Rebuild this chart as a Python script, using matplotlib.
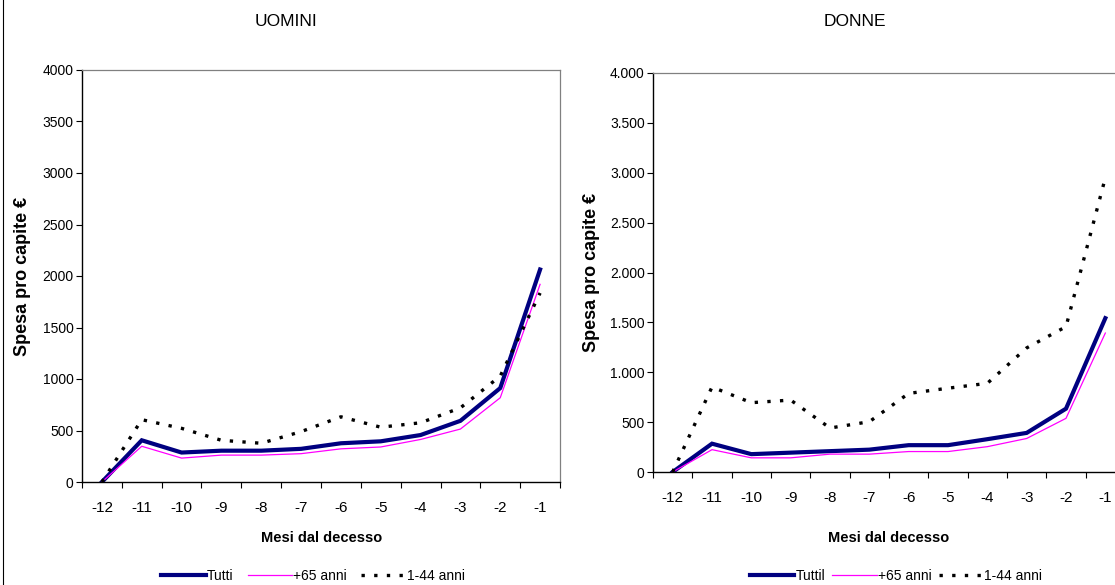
import matplotlib
matplotlib.use('Agg')
import matplotlib.pyplot as plt
from matplotlib.ticker import FixedLocator, FuncFormatter

plt.rcParams['font.family'] = ['Liberation Sans', 'DejaVu Sans']

mesi = ['-12', '-11', '-10', '-9', '-8', '-7', '-6', '-5', '-4', '-3', '-2', '-1']

# uomini
u_tutti = [0, 405, 286, 304, 304, 322, 376, 395, 456, 594, 912, 2063]
u_65 = [0, 347, 232, 261, 261, 275, 322, 340, 413, 514, 818, 1919]
u_144 = [0, 605, 521, 405, 376, 489, 633, 532, 575, 720, 1028, 1835]

# donne
d_tutti = [0, 284, 179, 194, 209, 224, 269, 269, 329, 392, 635, 1542]
d_65 = [0, 224, 142, 142, 179, 179, 205, 205, 254, 336, 538, 1393]
d_144 = [0, 852, 695, 721, 441, 504, 788, 840, 889, 1244, 1457, 2950]

labels_u = ['Tutti', '+65 anni', '1-44 anni']
labels_d = ['Tuttil', '+65 anni', '1-44 anni']

W, H = 1115, 585


def px_box(x0, y0, x1, y1):
	return [x0 / W, 1 - y1 / H, (x1 - x0) / W, (y1 - y0) / H]


def draw_panel(fig, box, tutti, p65, p144, fmt):
	ax = fig.add_axes(box)
	x = list(range(len(mesi)))
	l1, = ax.plot(x, tutti, color='#000080', lw=3.0, solid_joinstyle='miter')
	l2, = ax.plot(x, p65, color='#FF00FF', lw=0.9)
	l3, = ax.plot(x, p144, color='black', lw=2.4, linestyle=(0, (1.0, 2.8)))
	ax.set_xlim(-0.5, len(mesi) - 0.5)
	ax.set_ylim(0, 4000)
	ax.set_yticks(range(0, 4001, 500))
	ax.yaxis.set_major_formatter(FuncFormatter(fmt))
	ax.xaxis.set_major_locator(FixedLocator([i - 0.5 for i in range(len(mesi) + 1)]))
	ax.xaxis.set_major_formatter(FuncFormatter(lambda v, p: ''))
	ax.xaxis.set_minor_locator(FixedLocator(x))
	ax.set_xticklabels(mesi, minor=True)
	ax.tick_params(axis='x', which='major', direction='out', length=4, width=0.8)
	ax.tick_params(axis='x', which='minor', length=0, pad=14, labelsize=11)
	ax.tick_params(axis='y', direction='out', length=4, width=0.8, labelsize=10, pad=2)
	for s in ['top', 'right']:
		ax.spines[s].set_color('#808080')
		ax.spines[s].set_linewidth(0.9)
	for s in ['left', 'bottom']:
		ax.spines[s].set_color('black')
		ax.spines[s].set_linewidth(1.0)
	ax.set_ylabel('Spesa pro capite €', fontsize=13, fontweight='bold')
	return ax, [l1, l2, l3]


fig = plt.figure(figsize=(W / 100, H / 100), dpi=100)

ax1, h1 = draw_panel(fig, px_box(82, 70, 560, 482), u_tutti, u_65, u_144,
	lambda v, p: '%d' % v)
ax1.yaxis.labelpad = 8
ax2, h2 = draw_panel(fig, px_box(653, 73, 1125, 472), d_tutti, d_65, d_144,
	lambda v, p: ('%d' % v) if v < 1000 else '%d.%03d' % (v // 1000, v % 1000))
ax2.yaxis.labelpad = 7

fig.text(286 / W, 1 - 22 / H, 'UOMINI', ha='center', va='center', fontsize=12.5)
fig.text(855 / W, 1 - 22 / H, 'DONNE', ha='center', va='center', fontsize=12.5)
fig.text(322 / W, 1 - 538 / H, 'Mesi dal decesso', ha='center', va='center',
	fontsize=10.5, fontweight='bold')
fig.text(889 / W, 1 - 538 / H, 'Mesi dal decesso', ha='center', va='center',
	fontsize=10.5, fontweight='bold')

fig.legend(h1, labels_u, loc='center', bbox_to_anchor=(313 / W, 1 - 576 / H), ncol=3,
	frameon=False, fontsize=10, handlelength=3.2, handletextpad=0.1, columnspacing=1.0)
fig.legend(h2, labels_d, loc='center', bbox_to_anchor=(896 / W, 1 - 576 / H), ncol=3,
	frameon=False, fontsize=10, handlelength=3.2, handletextpad=0.1, columnspacing=0.5)

# bordo sinistro del grafico
fig.add_artist(plt.Line2D([3 / W, 3 / W], [0, 1], color='black', lw=0.8))

fig.savefig('out.png', dpi=100)
